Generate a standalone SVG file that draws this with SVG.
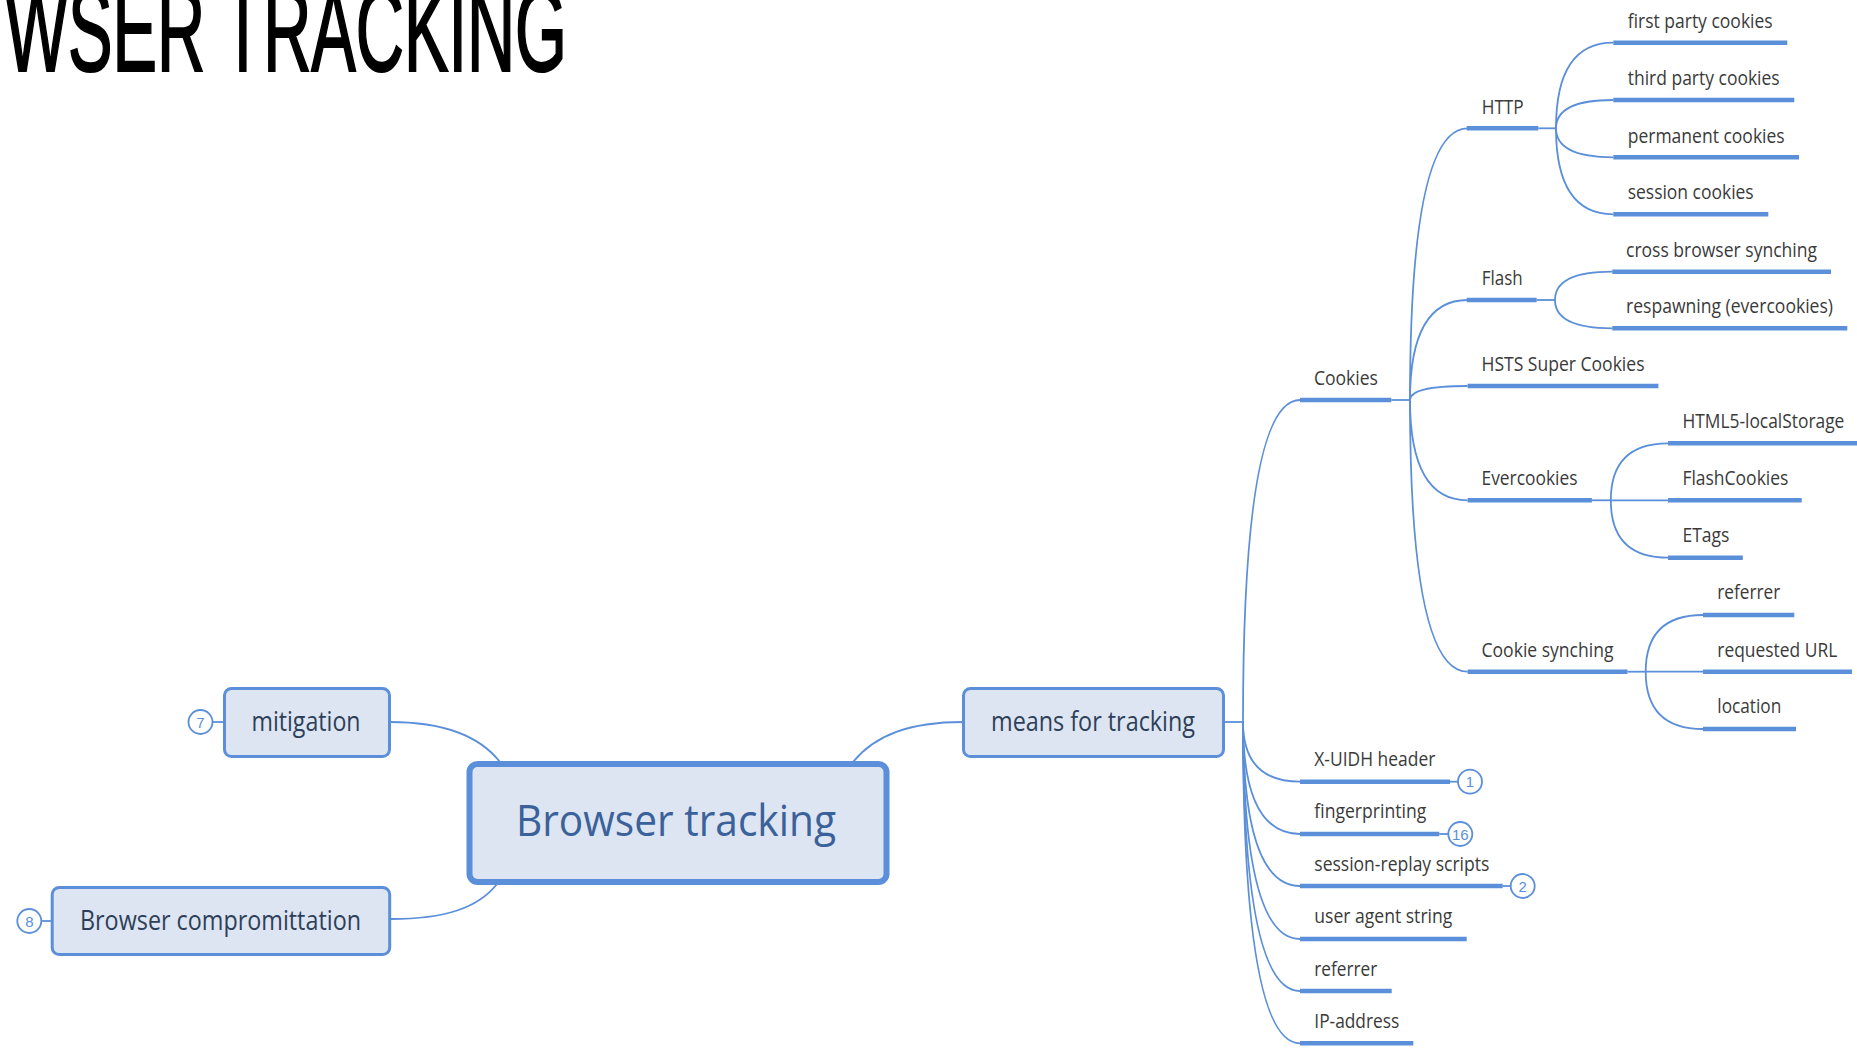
<svg xmlns="http://www.w3.org/2000/svg" width="1857" height="1052" viewBox="0 0 1857 1052">
<style>
.title{font-family:"Liberation Sans",Arial,sans-serif;font-size:118px;fill:#000;stroke:#000;stroke-width:2.2px}
.leaf{font-family:"Open Sans","Noto Sans",sans-serif;font-size:19.5px;fill:#3a3a3a}
.box{fill:#dce5f1;stroke:#5b8fd9;stroke-width:3}
.main{fill:#dce5f1;stroke:#5b8fd9;stroke-width:6}
.blabel{font-family:"Open Sans","Noto Sans",sans-serif;font-size:27px;fill:#2e3f59;text-anchor:middle}
.mlabel{font-family:"Open Sans","Noto Sans",sans-serif;font-size:44px;fill:#3a6199;text-anchor:middle}
.ul{stroke:#5b8fd9;stroke-width:4.5;fill:none}
.con{stroke:#5b8fd9;stroke-width:1.8;fill:none}
.badge{fill:#fff;stroke:#5b8fd9;stroke-width:1.8}
.num{font-family:"Liberation Sans",Arial,sans-serif;font-size:15px;fill:#5b8fd9;text-anchor:middle}
</style>
<rect width="1857" height="1052" fill="#fff"/>
<text class="title" x="5" y="71" textLength="562" lengthAdjust="spacingAndGlyphs">WSER TRACKING</text>

<g id="connectors">
  <path class="con" d="M390 722 C440 722 478 734 500 762"/>
  <path class="con" d="M497 884 C478 908 445 919 391 919"/>
  <path class="con" d="M853 762 C875 735 910 722 963 722"/>
  <path class="con" d="M212 722 H223"/>
  <path class="con" d="M41 921 H51"/>
  <path class="con" d="M1225 722 H1243"/>
  <path class="con" d="M1243 722 Q1243 400 1300 400"/>
  <path class="con" d="M1243 722 Q1243 781.7 1300 781.7"/>
  <path class="con" d="M1243 722 Q1243 834 1300 834"/>
  <path class="con" d="M1243 722 Q1243 886 1300 886"/>
  <path class="con" d="M1243 722 Q1243 939 1300 939"/>
  <path class="con" d="M1243 722 Q1243 991 1300 991"/>
  <path class="con" d="M1243 722 Q1243 1043.3 1300 1043.3"/>
  <path class="con" d="M1391.3 400 H1410"/>
  <path class="con" d="M1410 400 Q1410 128.3 1467.6 128.3"/>
  <path class="con" d="M1410 400 Q1410 300 1467.6 300"/>
  <path class="con" d="M1410 400 Q1410 386 1467.6 386"/>
  <path class="con" d="M1410 400 Q1410 500.3 1467.6 500.3"/>
  <path class="con" d="M1410 400 Q1410 671.7 1467.6 671.7"/>
  <path class="con" d="M1538.3 128.3 H1556"/>
  <path class="con" d="M1556 128.3 Q1556 42.7 1613.3 42.7"/>
  <path class="con" d="M1556 128.3 Q1556 100 1613.3 100"/>
  <path class="con" d="M1556 128.3 Q1556 157.3 1613.3 157.3"/>
  <path class="con" d="M1556 128.3 Q1556 214.3 1613.3 214.3"/>
  <path class="con" d="M1536.7 300 H1555"/>
  <path class="con" d="M1555 300 Q1555 271.7 1612.3 271.7"/>
  <path class="con" d="M1555 300 Q1555 328.3 1612.3 328.3"/>
  <path class="con" d="M1591.9 500.3 H1610.8"/>
  <path class="con" d="M1610.8 500.3 Q1610.8 443.3 1668 443.3"/>
  <path class="con" d="M1610.8 500.3 H1668"/>
  <path class="con" d="M1610.8 500.3 Q1610.8 557.7 1668 557.7"/>
  <path class="con" d="M1627.5 671.7 H1645.7"/>
  <path class="con" d="M1645.7 671.7 Q1645.7 615 1703 615"/>
  <path class="con" d="M1645.7 671.7 H1703"/>
  <path class="con" d="M1645.7 671.7 Q1645.7 729 1703 729"/>
  <path class="con" d="M1450 781.7 H1458"/>
  <path class="con" d="M1439.3 834 H1448.3"/>
  <path class="con" d="M1502.7 886 H1510.7"/>
</g>

<g id="node-browser-tracking">
  <rect class="main" x="469.5" y="764" width="417" height="118" rx="8"/>
  <text class="mlabel" x="676" y="836" textLength="320" lengthAdjust="spacingAndGlyphs">Browser tracking</text>
</g>
<g id="node-mitigation">
  <rect class="box" x="224.5" y="688.5" width="165" height="68" rx="7"/>
  <text class="blabel" x="306" y="731" textLength="109" lengthAdjust="spacingAndGlyphs">mitigation</text>
  <circle class="badge" cx="200.5" cy="722" r="12"/>
  <text class="num" x="200.5" y="727.5">7</text>
</g>
<g id="node-compromittation">
  <rect class="box" x="52.2" y="887.5" width="337.5" height="67" rx="7"/>
  <text class="blabel" x="220.5" y="930" textLength="281" lengthAdjust="spacingAndGlyphs">Browser compromittation</text>
  <circle class="badge" cx="29.3" cy="921" r="12"/>
  <text class="num" x="29.3" y="926.5">8</text>
</g>
<g id="node-means">
  <rect class="box" x="963.5" y="688.5" width="260" height="68" rx="7"/>
  <text class="blabel" x="1093" y="731" textLength="204" lengthAdjust="spacingAndGlyphs">means for tracking</text>
</g>

<g id="node-cookies"><path class="ul" d="M1300 400 H1391.3"/><text class="leaf" x="1313.9" y="385" textLength="64" lengthAdjust="spacingAndGlyphs">Cookies</text></g>
<g id="node-http"><path class="ul" d="M1466.7 128.3 H1538.3"/><text class="leaf" x="1481.7" y="114" textLength="42" lengthAdjust="spacingAndGlyphs">HTTP</text></g>
<g id="node-first-party"><path class="ul" d="M1613.3 42.7 H1787.3"/><text class="leaf" x="1627.7" y="28.3" textLength="145" lengthAdjust="spacingAndGlyphs">first party cookies</text></g>
<g id="node-third-party"><path class="ul" d="M1613.3 100 H1794.3"/><text class="leaf" x="1627.7" y="85" textLength="152" lengthAdjust="spacingAndGlyphs">third party cookies</text></g>
<g id="node-permanent"><path class="ul" d="M1613.3 157.3 H1799"/><text class="leaf" x="1627.7" y="142.7" textLength="157" lengthAdjust="spacingAndGlyphs">permanent cookies</text></g>
<g id="node-session"><path class="ul" d="M1613.3 214.3 H1768.3"/><text class="leaf" x="1627.7" y="199.3" textLength="126" lengthAdjust="spacingAndGlyphs">session cookies</text></g>
<g id="node-flash"><path class="ul" d="M1466.7 300 H1536.7"/><text class="leaf" x="1481.7" y="285" textLength="41" lengthAdjust="spacingAndGlyphs">Flash</text></g>
<g id="node-cross-browser"><path class="ul" d="M1612.3 271.7 H1831"/><text class="leaf" x="1626" y="256.7" textLength="191" lengthAdjust="spacingAndGlyphs">cross browser synching</text></g>
<g id="node-respawning"><path class="ul" d="M1612.3 328.3 H1847.3"/><text class="leaf" x="1626" y="313.3" textLength="207" lengthAdjust="spacingAndGlyphs">respawning (evercookies)</text></g>
<g id="node-hsts"><path class="ul" d="M1467.6 386 H1658.4"/><text class="leaf" x="1481.5" y="370.7" textLength="163" lengthAdjust="spacingAndGlyphs">HSTS Super Cookies</text></g>
<g id="node-evercookies"><path class="ul" d="M1467.6 500.3 H1591.9"/><text class="leaf" x="1481.5" y="485" textLength="96" lengthAdjust="spacingAndGlyphs">Evercookies</text></g>
<g id="node-html5"><path class="ul" d="M1668 443.3 H1857"/><text class="leaf" x="1682.4" y="428.3" textLength="162" lengthAdjust="spacingAndGlyphs">HTML5-localStorage</text></g>
<g id="node-flashcookies"><path class="ul" d="M1668 500.3 H1801.7"/><text class="leaf" x="1682.4" y="485" textLength="106" lengthAdjust="spacingAndGlyphs">FlashCookies</text></g>
<g id="node-etags"><path class="ul" d="M1668 557.7 H1742.8"/><text class="leaf" x="1682.4" y="542.3" textLength="47" lengthAdjust="spacingAndGlyphs">ETags</text></g>
<g id="node-cookie-synching"><path class="ul" d="M1467.6 671.7 H1627.5"/><text class="leaf" x="1481.5" y="656.7" textLength="132" lengthAdjust="spacingAndGlyphs">Cookie synching</text></g>
<g id="node-cs-referrer"><path class="ul" d="M1703 615 H1794.3"/><text class="leaf" x="1717.3" y="599.3" textLength="63" lengthAdjust="spacingAndGlyphs">referrer</text></g>
<g id="node-requested-url"><path class="ul" d="M1703 671.7 H1852"/><text class="leaf" x="1717.3" y="656.7" textLength="120" lengthAdjust="spacingAndGlyphs">requested URL</text></g>
<g id="node-location"><path class="ul" d="M1703 729 H1796"/><text class="leaf" x="1717.3" y="713.3" textLength="64" lengthAdjust="spacingAndGlyphs">location</text></g>
<g id="node-xuidh"><path class="ul" d="M1300 781.7 H1450"/><text class="leaf" x="1314.3" y="765.7" textLength="121" lengthAdjust="spacingAndGlyphs">X-UIDH header</text>
  <circle class="badge" cx="1470" cy="781.7" r="12"/><text class="num" x="1470" y="787.2">1</text></g>
<g id="node-fingerprinting"><path class="ul" d="M1300 834 H1439.3"/><text class="leaf" x="1314.3" y="818.3" textLength="112" lengthAdjust="spacingAndGlyphs">fingerprinting</text>
  <circle class="badge" cx="1460.3" cy="834" r="12"/><text class="num" x="1460.3" y="839.5">16</text></g>
<g id="node-session-replay"><path class="ul" d="M1300 886 H1502.7"/><text class="leaf" x="1314.3" y="871" textLength="175" lengthAdjust="spacingAndGlyphs">session-replay scripts</text>
  <circle class="badge" cx="1522.7" cy="886" r="12"/><text class="num" x="1522.7" y="891.5">2</text></g>
<g id="node-user-agent"><path class="ul" d="M1300 939 H1466.7"/><text class="leaf" x="1314.3" y="923.3" textLength="138" lengthAdjust="spacingAndGlyphs">user agent string</text></g>
<g id="node-referrer"><path class="ul" d="M1300 991 H1391.7"/><text class="leaf" x="1314.3" y="975.7" textLength="63" lengthAdjust="spacingAndGlyphs">referrer</text></g>
<g id="node-ip"><path class="ul" d="M1300 1043.3 H1413.3"/><text class="leaf" x="1314.3" y="1027.7" textLength="85" lengthAdjust="spacingAndGlyphs">IP-address</text></g>
</svg>
